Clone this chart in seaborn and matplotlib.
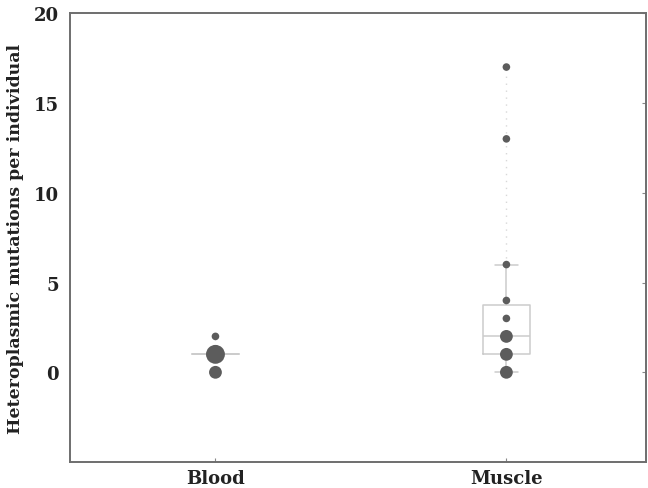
import numpy as np
import pandas as pd
import seaborn as sns
import matplotlib.pyplot as plt

# Data: number of individuals with a given count of heteroplasmic mutations
tissues = ['Blood', 'Muscle']
blood_values = [0, 1, 2]
blood_counts = [3, 10, 1]
muscle_values = [0, 1, 2, 3, 4, 6, 13, 17]
muscle_counts = [3, 3, 3, 1, 1, 1, 1, 1]

# point size (pt^2) for each count of individuals
dot_sizes = {1: 30, 3: 85, 10: 185}

############### BUILD TABLES #############
counts = pd.DataFrame({
    'tissue': ['Blood'] * len(blood_values) + ['Muscle'] * len(muscle_values),
    'value': blood_values + muscle_values,
    'n': blood_counts + muscle_counts,
})
counts['pos'] = counts['tissue'].map({t: i for i, t in enumerate(tissues)})

# one row per individual, for the box plot
long = counts.loc[counts.index.repeat(counts['n'])].reset_index(drop=True)

############### PLOT #############
sns.set_theme(style="white")
plt.rcParams['font.family'] = ['DejaVu Serif']
plt.rcParams['font.weight'] = 'bold'

fig, ax = plt.subplots(figsize=(6.48, 4.89), dpi=100)
fig.subplots_adjust(left=0.108, right=0.997, top=0.971, bottom=0.053)

box_color = '#cccccc'
sns.boxplot(data=long, x='pos', y='value', order=[0, 1], fill=False,
            color=box_color, linewidth=1.1, width=0.16,
            showfliers=False, whis=1.5, ax=ax)

# dotted line from whisker to outliers
for i, t in enumerate(tissues):
    v = long.loc[long['tissue'] == t, 'value']
    q1, q3 = np.percentile(v, [25, 75])
    hi = v[v <= q3 + 1.5 * (q3 - q1)].max()
    if v.max() > hi:
        ax.vlines(i, hi, v.max(), colors='#d8d8d8', linestyles=(0, (1, 4)),
                  linewidth=1.0, zorder=1)

sns.scatterplot(data=counts, x='pos', y='value', size='n', sizes=dot_sizes,
                color='#5c5c5c', edgecolor='none', legend=False, zorder=3, ax=ax)

ax.set_xlim(-0.5, 1.48)
ax.set_ylim(-5, 20)
ax.set_xticks(range(len(tissues)))
ax.set_xticklabels(tissues)
ax.set_yticks([0, 5, 10, 15, 20])
ax.set_xlabel('')
ax.set_ylabel('Heteroplasmic mutations per individual', fontsize=12.5,
              fontweight='bold', color='#222222', labelpad=7)

for side in ['left', 'bottom', 'top', 'right']:
    ax.spines[side].set_color('#6e6e6e')
    ax.spines[side].set_linewidth(1.4)
ax.tick_params(axis='both', direction='in', length=3, width=0.8,
               color='#888888', labelsize=13, labelcolor='#222222')
ax.tick_params(axis='y', right=True, pad=8)
ax.tick_params(axis='x', bottom=True, pad=5)

plt.savefig('out.png', dpi=100)
